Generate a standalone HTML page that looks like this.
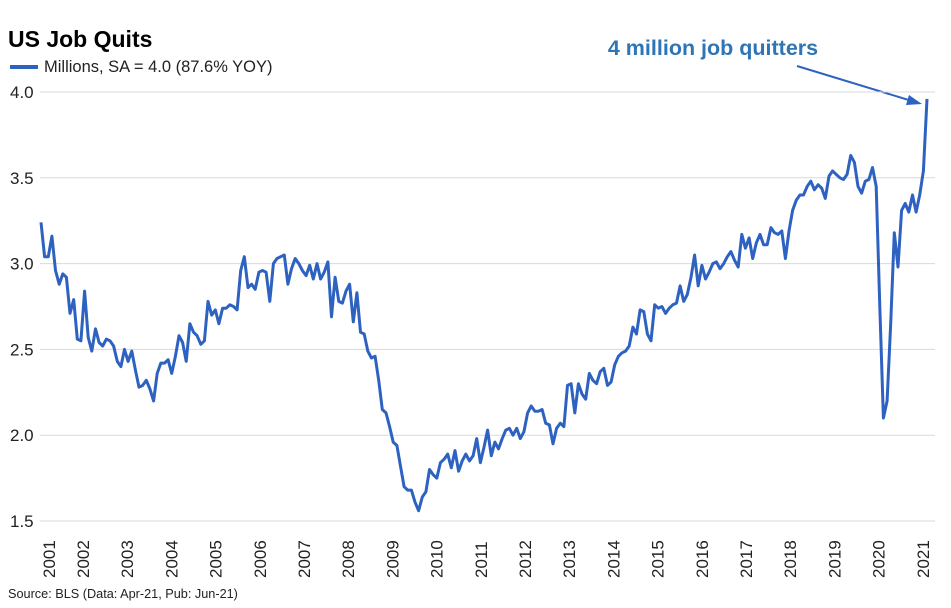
<!DOCTYPE html>
<html><head><meta charset="utf-8"><style>
body{margin:0;background:#fff;}
svg{display:block;font-family:"Liberation Sans",Arial,sans-serif;}
</style></head><body>
<svg id="chart" width="951" height="608" viewBox="0 0 951 608">
<text x="8" y="47" font-size="23" font-weight="bold" fill="#000">US Job Quits</text>
<line x1="10" y1="67" x2="38" y2="67" stroke="#2E62C0" stroke-width="4"/>
<text x="44" y="72" font-size="16.5" fill="#222">Millions, SA = 4.0 (87.6% YOY)</text>
<text x="713" y="55" font-size="21.5" font-weight="bold" fill="#2E75B6" text-anchor="middle">4 million job quitters</text>
<line x1="797" y1="66" x2="912" y2="101" stroke="#2E62C0" stroke-width="2"/>
<polygon points="922,104 909,95 906,105" fill="#2E62C0"/>
<g id="grid"></g>
<g id="xlabels"></g>
<path id="line" fill="none" stroke="#2E62C0" stroke-width="3" stroke-linejoin="round"/>
<text x="8" y="598" font-size="12.7" fill="#222">Source: BLS (Data: Apr-21, Pub: Jun-21)</text>
</svg>
<script>
const yTicks=[1.5,2.0,2.5,3.0,3.5,4.0];
const yTickLabels=["1.5","2.0","2.5","3.0","3.5","4.0"];
const years=[2001,2002,2003,2004,2005,2006,2007,2008,2009,2010,2011,2012,2013,2014,2015,2016,2017,2018,2019,2020,2021];
const quits=[3.24,3.04,3.04,3.16,2.96,2.88,2.94,2.92,2.71,2.79,2.56,2.55,2.84,2.57,2.49,2.62,2.54,2.52,2.56,2.55,
2.52,2.43,2.40,2.50,2.43,2.49,2.38,2.28,2.29,2.32,2.27,2.20,2.36,2.42,2.42,2.44,2.36,2.46,2.58,2.54,
2.43,2.65,2.60,2.58,2.53,2.55,2.78,2.70,2.73,2.65,2.74,2.74,2.76,2.75,2.73,2.96,3.04,2.86,2.88,2.85,
2.95,2.96,2.95,2.78,3.00,3.03,3.04,3.05,2.88,2.97,3.03,3.00,2.96,2.93,2.99,2.91,3.00,2.91,2.95,3.01,
2.69,2.92,2.78,2.77,2.84,2.88,2.66,2.83,2.60,2.59,2.49,2.45,2.46,2.32,2.15,2.13,2.05,1.96,1.94,1.82,
1.70,1.68,1.68,1.61,1.56,1.64,1.67,1.80,1.77,1.75,1.84,1.86,1.89,1.81,1.91,1.79,1.85,1.89,1.85,1.88,
1.98,1.84,1.93,2.03,1.88,1.96,1.92,1.98,2.03,2.04,2.00,2.04,1.98,2.02,2.13,2.17,2.14,2.14,2.15,2.07,
2.06,1.95,2.04,2.07,2.05,2.29,2.30,2.13,2.30,2.24,2.21,2.36,2.32,2.30,2.37,2.39,2.29,2.31,2.41,2.46,
2.48,2.49,2.52,2.63,2.59,2.73,2.72,2.59,2.55,2.76,2.74,2.75,2.71,2.74,2.76,2.77,2.87,2.78,2.82,2.92,
3.05,2.87,2.99,2.91,2.95,3.00,3.01,2.97,3.00,3.04,3.07,3.02,2.98,3.17,3.09,3.15,3.03,3.12,3.17,3.11,
3.11,3.21,3.18,3.17,3.19,3.03,3.19,3.31,3.37,3.40,3.40,3.45,3.48,3.43,3.46,3.44,3.38,3.51,3.54,3.52,
3.50,3.49,3.52,3.63,3.59,3.45,3.41,3.48,3.49,3.56,3.45,2.75,2.10,2.20,2.65,3.18,2.98,3.31,3.35,3.30,
3.40,3.30,3.40,3.54,3.96];
const NS='http://www.w3.org/2000/svg';
const x0=41,x1=927,yTop=92,yBot=521,vMin=1.5,vMax=4.0;
function xScale(i){return x0+i*(x1-x0)/(quits.length-1);}
function yScale(v){return yBot-(v-vMin)*(yBot-yTop)/(vMax-vMin);}
function yearX(y){return y===years[0]?49:83+(y-2002)*44.2;}
const grid=document.getElementById('grid');
yTicks.forEach((t,k)=>{
  const l=document.createElementNS(NS,'line');
  l.setAttribute('x1',40);l.setAttribute('x2',935);
  l.setAttribute('y1',yScale(t));l.setAttribute('y2',yScale(t));
  l.setAttribute('stroke','#d9d9d9');l.setAttribute('stroke-width','1');
  
  
  grid.appendChild(l);
  const tx=document.createElementNS(NS,'text');
  tx.setAttribute('x',10);tx.setAttribute('y',yScale(t)+6);
  tx.setAttribute('font-size','17');tx.setAttribute('fill','#222');
  tx.textContent=yTickLabels[k];
  
  
  grid.appendChild(tx);
});
const xl=document.getElementById('xlabels');
years.forEach(y=>{
  const tx=document.createElementNS(NS,'text');
  const cx=yearX(y);
  tx.setAttribute('transform','translate('+(cx+6)+',578) rotate(-90)');
  tx.setAttribute('font-size','17');tx.setAttribute('fill','#222');
  tx.textContent=String(y);
  
  
  xl.appendChild(tx);
});
let d='';
quits.forEach((v,i)=>{d+=(i?'L':'M')+xScale(i).toFixed(1)+','+yScale(v).toFixed(1);});
document.getElementById('line').setAttribute('d',d);
</script>
</body></html>
